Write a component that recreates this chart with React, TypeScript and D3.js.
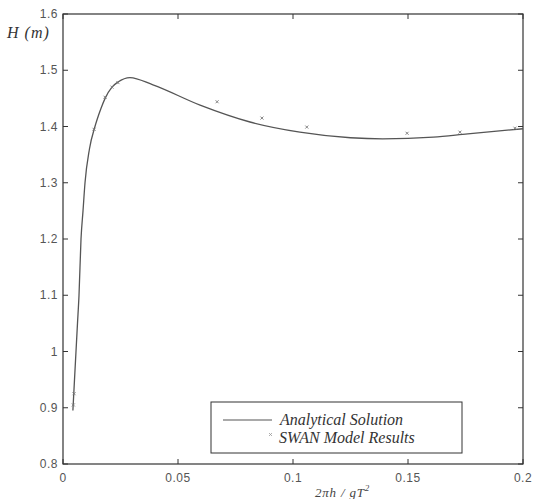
import React from "react";
import * as d3 from "d3";

const curveX = [0.0043, 0.0050, 0.00565, 0.0063, 0.00696, 0.00783, 0.0087, 0.00957, 0.0115, 0.0139, 0.0148, 0.0165, 0.0183, 0.0213, 0.0239, 0.0291, 0.0391, 0.0596, 0.0813, 0.103, 0.125, 0.139, 0.161, 0.176, 0.2];
const curveH = [0.895, 0.95, 1.0, 1.05, 1.1, 1.2, 1.25, 1.3, 1.36, 1.4, 1.412, 1.432, 1.45, 1.47, 1.479, 1.487, 1.474, 1.438, 1.408, 1.39, 1.38, 1.378, 1.381, 1.387, 1.396];

const swanX = [0.0045, 0.0048, 0.0135, 0.0183, 0.0213, 0.0239, 0.067, 0.0865, 0.106, 0.1496, 0.1726, 0.1965];
const swanH = [0.905, 0.925, 1.395, 1.452, 1.47, 1.478, 1.444, 1.415, 1.399, 1.388, 1.39, 1.397];

const xTicks = [0, 0.05, 0.1, 0.15, 0.2];
const xTickLabels = ["0", "0.05", "0.1", "0.15", "0.2"];
const yTicks = [0.8, 0.9, 1, 1.1, 1.2, 1.3, 1.4, 1.5, 1.6];
const yTickLabels = ["0.8", "0.9", "1", "1.1", "1.2", "1.3", "1.4", "1.5", "1.6"];
const legendLabels = ["Analytical Solution", "SWAN Model Results"];

export default function App() {
  const W = 534, H = 499;
  const left = 63, right = 523, top = 14, bottom = 464;
  const x = d3.scaleLinear().domain([0, 0.2]).range([left, right]);
  const y = d3.scaleLinear().domain([0.8, 1.6]).range([bottom, top]);
  const line = d3.line<number>()
    .x((_, i) => x(curveX[i]))
    .y((d) => y(d))
    .curve(d3.curveMonotoneX);
  const axisColor = "#333";
  const tickFont = "Liberation Sans, Arial, sans-serif";
  const tickLen = 5;
  return (
    <svg width={W} height={H} style={{ position: "absolute", left: 0, top: 0, background: "#fff" }}>
      <rect x={left} y={top} width={right - left} height={bottom - top} fill="none" stroke={axisColor} strokeWidth={1.2} />
      {xTicks.map((t, i) => (
        <g key={"xt" + i}>
          <line x1={x(t)} x2={x(t)} y1={bottom} y2={bottom - tickLen} stroke={axisColor} />
          <line x1={x(t)} x2={x(t)} y1={top} y2={top + tickLen} stroke={axisColor} />
          <text x={x(t)} y={482} textAnchor="middle" fontFamily={tickFont} fontSize={12} fill="#555" letterSpacing={0.5}>{xTickLabels[i]}</text>
        </g>
      ))}
      {yTicks.map((t, i) => (
        <g key={"yt" + i}>
          <line x1={left} x2={left + tickLen} y1={y(t)} y2={y(t)} stroke={axisColor} />
          <line x1={right} x2={right - tickLen} y1={y(t)} y2={y(t)} stroke={axisColor} />
          <text x={58} y={y(t) + 4} textAnchor="end" fontFamily={tickFont} fontSize={12} fill="#555" letterSpacing={0.5}>{yTickLabels[i]}</text>
        </g>
      ))}
      <path d={line(curveH) || ""} fill="none" stroke="#555" strokeWidth={1.3} />
      {swanX.map((v, i) => (
        <g key={"s" + i} stroke="#777" strokeWidth={0.9}>
          <line x1={x(v) - 1.5} x2={x(v) + 1.5} y1={y(swanH[i]) - 1.5} y2={y(swanH[i]) + 1.5} />
          <line x1={x(v) - 1.5} x2={x(v) + 1.5} y1={y(swanH[i]) + 1.5} y2={y(swanH[i]) - 1.5} />
        </g>
      ))}
      <text x={7} y={38} fontFamily="Liberation Serif, serif" fontStyle="italic" fontSize={16} fill="#333" letterSpacing={1}>H (m)</text>
      <text x={315} y={497} fontFamily="Liberation Serif, serif" fontStyle="italic" fontSize={13} fill="#444" letterSpacing={0.8}>
        2πh / gT<tspan dy={-6} fontSize={9}>2</tspan>
      </text>
      <rect x={211} y={402} width={251} height={51} fill="#fff" stroke={axisColor} strokeWidth={1} />
      <line x1={223} x2={272} y1={420} y2={420} stroke="#555" strokeWidth={1.2} />
      <g stroke="#999" strokeWidth={0.8}>
        <line x1={269} x2={272} y1={433} y2={436} />
        <line x1={269} x2={272} y1={436} y2={433} />
      </g>
      <text x={280} y={425} fontFamily="Liberation Serif, serif" fontStyle="italic" fontSize={16} fill="#333">{legendLabels[0]}</text>
      <text x={279} y={443} fontFamily="Liberation Serif, serif" fontStyle="italic" fontSize={16} fill="#333">{legendLabels[1]}</text>
    </svg>
  );
}
